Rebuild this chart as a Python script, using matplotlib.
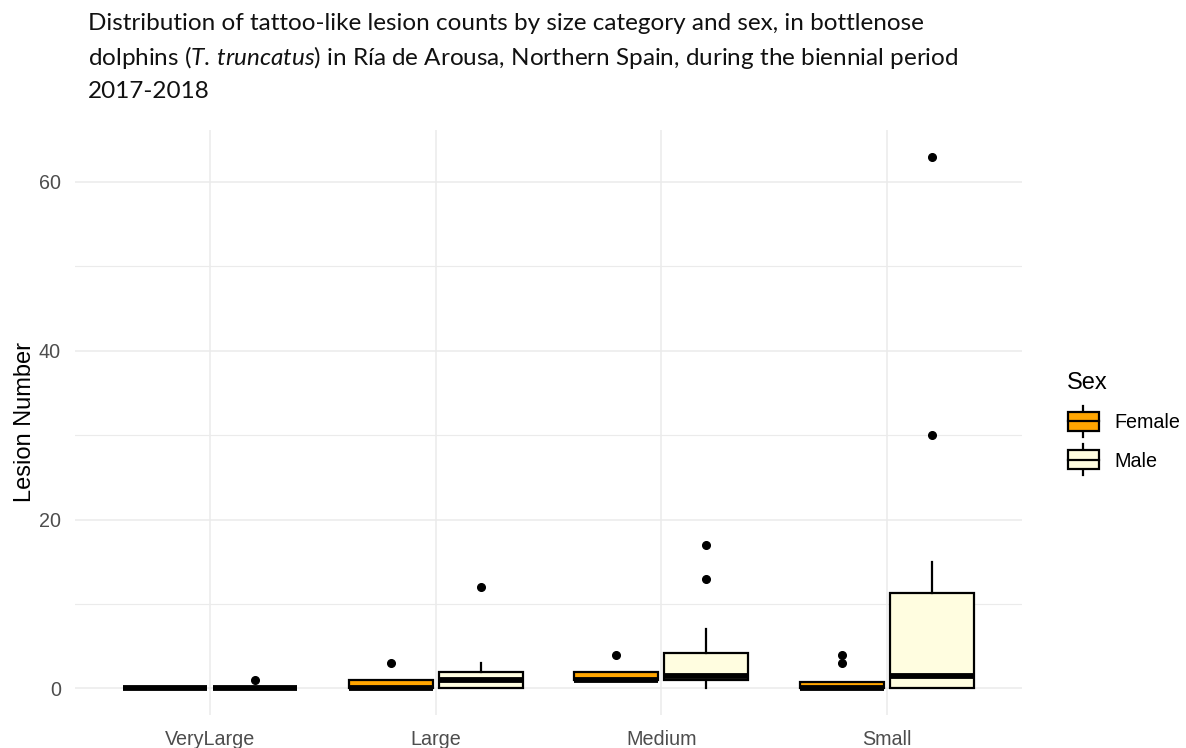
import matplotlib
matplotlib.use("Agg")
import matplotlib.pyplot as plt
from matplotlib.patches import Rectangle
from matplotlib.lines import Line2D
from matplotlib.legend_handler import HandlerBase

# ---- data -------------------------------------------------------------
categories = ["VeryLarge", "Large", "Medium", "Small"]
sexes = ["Female", "Male"]
sex_colors = ["#FFA500", "#FFFDE0"]

# box statistics per size category
female_q1 = [0, 0, 1, 0]
female_med = [0, 0, 1, 0]
female_q3 = [0, 1, 2, 0.75]
female_wlo = [0, 0, 1, 0]
female_whi = [0, 1, 2, 0.75]
female_fliers = [[], [3], [4], [3, 4]]

male_q1 = [0, 0, 1, 0]
male_med = [0, 1, 1.5, 1.5]
male_q3 = [0, 2, 4.25, 11.25]
male_wlo = [0, 0, 0, 0]
male_whi = [0, 3, 7, 15]
male_fliers = [[1], [12], [13, 17], [30, 63]]

y_ticks = [0, 20, 40, 60]
y_minor = [10, 30, 50]

# ---- style ------------------------------------------------------------
plt.rcParams["font.family"] = ["Liberation Sans", "DejaVu Sans"]
plt.rcParams["mathtext.fontset"] = "custom"
plt.rcParams["mathtext.rm"] = "Lato"
plt.rcParams["mathtext.it"] = "Lato:italic"

EDGE_LW = 1.6
MED_LW = 4.2
GRID = "#EBEBEB"
TICK_COLOR = "#4D4D4D"

fig = plt.figure(figsize=(11.86, 7.48), dpi=100)
W, H = 1186, 748
ax = fig.add_axes([75 / W, (H - 715) / H, (1022 - 75) / W, (715 - 130) / H])


def make_stats(q1, med, q3, wlo, whi, fliers):
    out = []
    for i in range(len(q1)):
        out.append(dict(q1=q1[i], med=med[i], q3=q3[i],
                        whislo=wlo[i], whishi=whi[i], fliers=fliers[i]))
    return out


stats_by_sex = [
    make_stats(female_q1, female_med, female_q3, female_wlo, female_whi, female_fliers),
    make_stats(male_q1, male_med, male_q3, male_wlo, male_whi, male_fliers),
]

box_w = 0.372
offsets = [-0.2, 0.2]
for stats, off, col in zip(stats_by_sex, offsets, sex_colors):
    pos = [i + off for i in range(len(categories))]
    ax.bxp(stats, positions=pos, widths=box_w, patch_artist=True,
           showcaps=False, manage_ticks=False,
           boxprops=dict(facecolor=col, edgecolor="black", linewidth=EDGE_LW),
           medianprops=dict(color="black", linewidth=MED_LW, solid_capstyle="butt"),
           whiskerprops=dict(color="black", linewidth=EDGE_LW),
           flierprops=dict(marker="o", markerfacecolor="black",
                           markeredgecolor="black", markersize=5.5),
           zorder=3)

ax.set_xlim(-0.6, len(categories) - 0.4)
ax.set_ylim(-3.15, 66.15)
ax.set_xticks(range(len(categories)))
ax.set_xticklabels(categories)
ax.set_yticks(y_ticks)
ax.set_yticks(y_minor, minor=True)
ax.grid(True, which="major", color=GRID, linewidth=1.1, zorder=0)
ax.grid(True, which="minor", axis="y", color=GRID, linewidth=0.8, zorder=0)
ax.set_axisbelow(True)
for s in ax.spines.values():
    s.set_visible(False)
ax.tick_params(which="both", length=0, labelsize=14.2, labelcolor=TICK_COLOR)
ax.tick_params(axis="y", pad=10)
ax.tick_params(axis="x", pad=11)
ax.set_ylabel("Lesion Number", fontsize=17, color="black", labelpad=2)

# ---- legend -------------------------------------------------------------
class BoxKeyHandler(HandlerBase):
    def create_artists(self, legend, orig_handle, xdescent, ydescent,
                       width, height, fontsize, trans):
        fc = orig_handle.get_facecolor()
        cx = width / 2 - xdescent
        bw, bh = width * 0.95, height * 1.1
        x0 = cx - bw / 2
        y0 = height / 2 - ydescent - bh / 2
        whisk = Line2D([cx, cx], [y0 - bh * 0.3, y0 + bh * 1.3],
                       color="black", lw=EDGE_LW, transform=trans)
        rect = Rectangle((x0, y0), bw, bh, facecolor=fc, edgecolor="black",
                         lw=EDGE_LW, transform=trans)
        mid = Line2D([x0, x0 + bw], [y0 + bh / 2] * 2, color="black",
                     lw=EDGE_LW, transform=trans)
        return [whisk, rect, mid]


handles = [Rectangle((0, 0), 1, 1, facecolor=c) for c in sex_colors]
leg = fig.legend(handles, sexes, title="Sex",
                 handler_map={Rectangle: BoxKeyHandler()},
                 loc="upper left", bbox_to_anchor=(1059 / W, 1 - 364 / H),
                 frameon=False, fontsize=14.2, title_fontsize=17,
                 handlelength=1.65, handleheight=1.0, labelspacing=0.95,
                 handletextpad=0.75, borderaxespad=0)
leg._legend_box.align = "left"

# ---- title ------------------------------------------------------------
title_lines = [
    "Distribution of tattoo-like lesion counts by size category and sex, in bottlenose",
    r"dolphins ($\it{T.\,truncatus}$) in Ría de Arousa, Northern Spain, during the biennial period",
    "2017-2018",
]
baselines = [30, 65, 98.5]
for line, yb in zip(title_lines, baselines):
    fig.text(88 / W, 1 - yb / H, line, family="Lato", fontsize=17.5,
             color="#111111", va="baseline", ha="left")

fig.savefig("out.png", dpi=100)
